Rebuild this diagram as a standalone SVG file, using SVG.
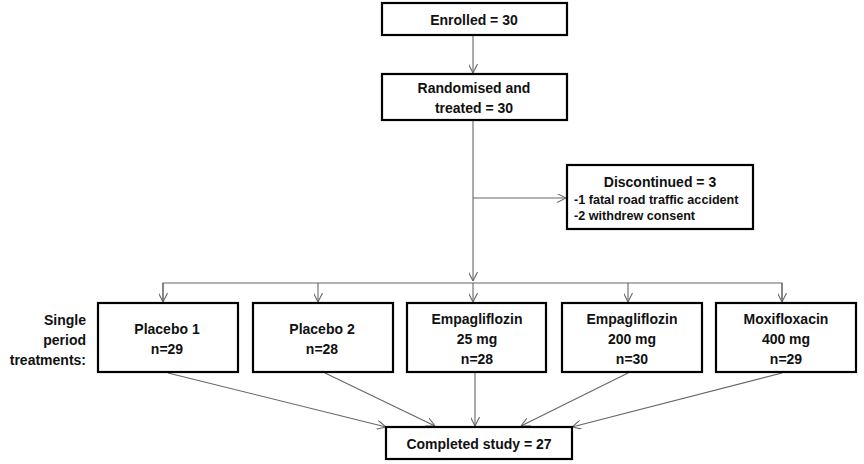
<svg xmlns="http://www.w3.org/2000/svg" width="864" height="464" viewBox="0 0 864 464">
<defs>
<marker id="arr" viewBox="0 0 10 10" refX="10" refY="5" markerWidth="9" markerHeight="9" markerUnits="userSpaceOnUse" orient="auto">
<path d="M0,0 L10,5 L0,10" fill="none" stroke="#666" stroke-width="1.2"/>
</marker>
<style>
.box{fill:#fff;stroke:#000;stroke-width:2.2}
.t{font-family:"Liberation Sans",Arial,sans-serif;font-weight:bold;font-size:14px;fill:#111;text-anchor:middle}
.s{font-family:"Liberation Sans",Arial,sans-serif;font-weight:bold;font-size:12.6px;fill:#111}
.c{fill:none;stroke:#666;stroke-width:1.1}
</style>
</defs>
<rect width="864" height="464" fill="#fff"/>
<g id="connectors">
<line class="c" x1="473" y1="36" x2="473" y2="73" marker-end="url(#arr)"/>
<line class="c" x1="473" y1="121" x2="473" y2="281" marker-end="url(#arr)"/>
<line class="c" x1="473" y1="198" x2="566" y2="198" marker-end="url(#arr)"/>
<polyline class="c" points="163,302 163,283 782,283 782,302"/>
<line class="c" x1="163" y1="283" x2="163" y2="302" marker-end="url(#arr)"/>
<line class="c" x1="318" y1="283" x2="318" y2="302" marker-end="url(#arr)"/>
<line class="c" x1="473" y1="283" x2="473" y2="302" marker-end="url(#arr)"/>
<line class="c" x1="628" y1="283" x2="628" y2="302" marker-end="url(#arr)"/>
<line class="c" x1="782" y1="283" x2="782" y2="302" marker-end="url(#arr)"/>
<line class="c" x1="168" y1="373" x2="386" y2="427" marker-end="url(#arr)"/>
<line class="c" x1="325" y1="373" x2="435" y2="426" marker-end="url(#arr)"/>
<line class="c" x1="475" y1="373" x2="475" y2="426" marker-end="url(#arr)"/>
<line class="c" x1="628" y1="373" x2="521" y2="426" marker-end="url(#arr)"/>
<line class="c" x1="782" y1="373" x2="572" y2="427" marker-end="url(#arr)"/>
</g>
<g id="enrolled">
<rect class="box" x="382" y="3" width="185" height="32"/>
<text class="t" x="474" y="25">Enrolled = 30</text>
</g>
<g id="randomised">
<rect class="box" x="382" y="74" width="185" height="46"/>
<text class="t" x="474" y="93">Randomised and</text>
<text class="t" x="474" y="113">treated = 30</text>
</g>
<g id="discontinued">
<rect class="box" x="567" y="165" width="186" height="64"/>
<text class="t" x="660" y="187">Discontinued = 3</text>
<text class="s" x="574" y="204">-1 fatal road traffic accident</text>
<text class="s" x="574" y="220">-2 withdrew consent</text>
</g>
<g id="label">
<text class="t" style="text-anchor:end" x="86" y="325">Single</text>
<text class="t" style="text-anchor:end" x="86" y="345">period</text>
<text class="t" style="text-anchor:end" x="86" y="365">treatments:</text>
</g>
<g id="placebo1">
<rect class="box" x="98" y="303" width="140" height="69"/>
<text class="t" x="167" y="334">Placebo 1</text>
<text class="t" x="167" y="354">n=29</text>
</g>
<g id="placebo2">
<rect class="box" x="253" y="303" width="140" height="69"/>
<text class="t" x="322" y="334">Placebo 2</text>
<text class="t" x="322" y="354">n=28</text>
</g>
<g id="empa25">
<rect class="box" x="407" y="303" width="139" height="69"/>
<text class="t" x="477" y="324">Empagliflozin</text>
<text class="t" x="477" y="344">25 mg</text>
<text class="t" x="477" y="364">n=28</text>
</g>
<g id="empa200">
<rect class="box" x="562" y="303" width="140" height="69"/>
<text class="t" x="632" y="324">Empagliflozin</text>
<text class="t" x="632" y="344">200 mg</text>
<text class="t" x="632" y="364">n=30</text>
</g>
<g id="moxi">
<rect class="box" x="716" y="303" width="140" height="69"/>
<text class="t" x="786" y="324">Moxifloxacin</text>
<text class="t" x="786" y="344">400 mg</text>
<text class="t" x="786" y="364">n=29</text>
</g>
<g id="completed">
<rect class="box" x="386" y="427" width="186" height="32"/>
<text class="t" x="479" y="449">Completed study = 27</text>
</g>
</svg>
